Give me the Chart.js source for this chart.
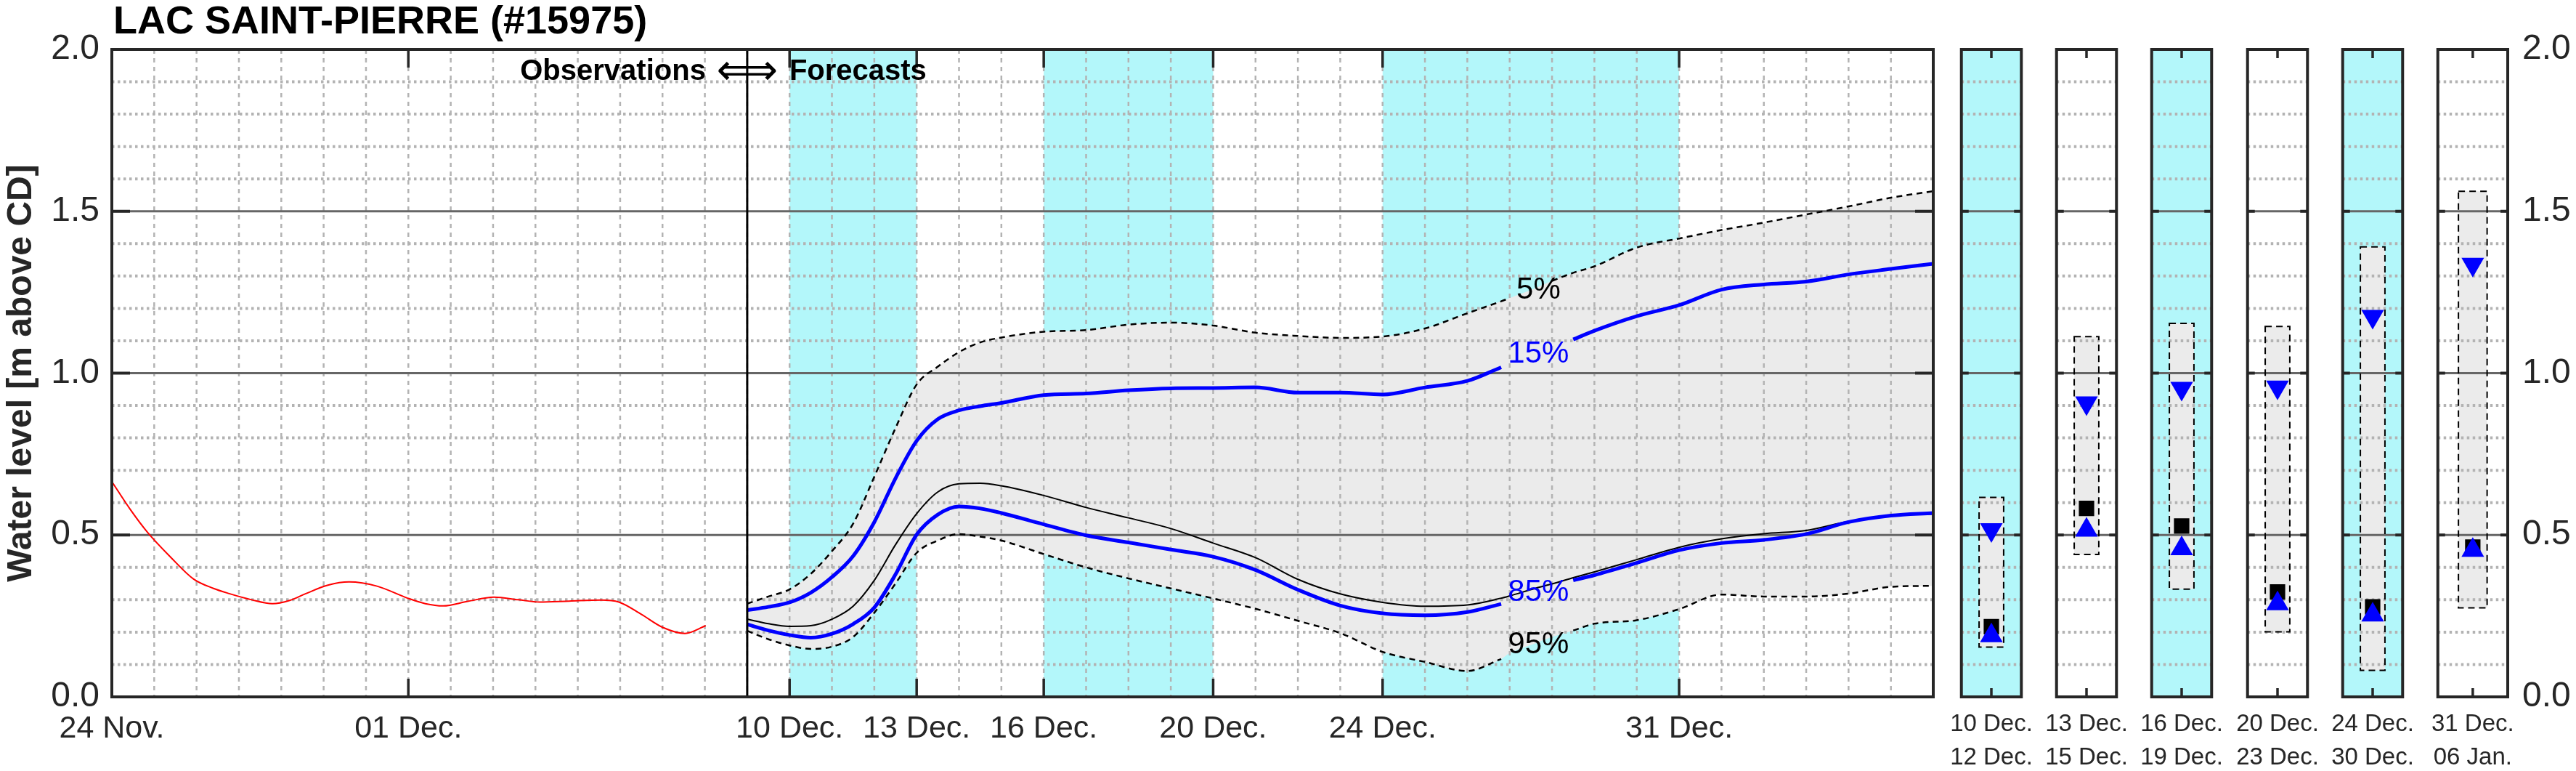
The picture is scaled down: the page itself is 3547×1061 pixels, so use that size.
<!DOCTYPE html>
<html>
<head>
<meta charset="utf-8">
<title>Lac Saint-Pierre water level</title>
<script src="https://cdn.jsdelivr.net/npm/chart.js@4.4.1/dist/chart.umd.min.js"></script>
<style>
  html, body { margin: 0; padding: 0; background: #fff; }
  #wrap { position: relative; width: 3547px; height: 1061px; overflow: hidden; }
  #wrap canvas { position: absolute; top: 0; }
</style>
</head>
<body>
<div id="wrap">
  <canvas id="mainChart" width="2700" height="1061" style="left:0"></canvas>
</div>
<script>
const stationTitle = 'LAC SAINT-PIERRE (#15975)';
const axisTitle = 'Water level [m above CD]';

// x axis counts days from 24 Nov.
const tickDays = [0, 7, 16, 19, 22, 26, 30, 37];
const tickLabels = ['24 Nov.', '01 Dec.', '10 Dec.', '13 Dec.', '16 Dec.', '20 Dec.', '24 Dec.', '31 Dec.'];
const lastDay = 43;
const forecastStart = 15;

const shadeFrom = [16, 22, 30];
const shadeTo = [19, 26, 37];

// observed level (red)
const obsDays = [0, 0.43, 0.85, 1.4, 1.93, 2.4, 2.77, 3.3, 3.79, 4.2, 4.58, 5.1, 5.6, 6.26, 6.98, 7.4, 7.82, 8.4, 9.02, 9.6, 10.1, 10.8, 11.55, 11.97, 12.5, 13.0, 13.53, 14.02];
const obsLevel = [0.665, 0.58, 0.507, 0.43, 0.364, 0.335, 0.319, 0.300, 0.288, 0.298, 0.319, 0.345, 0.355, 0.342, 0.305, 0.288, 0.281, 0.295, 0.308, 0.300, 0.293, 0.296, 0.299, 0.293, 0.255, 0.215, 0.196, 0.22];

// forecast percentiles
const fcDays = [15, 15.5, 16, 16.5, 17, 17.5, 18, 18.5, 19, 19.5, 20, 20.5, 21, 22, 23, 24, 25, 26, 27, 28, 29, 30, 31, 32, 32.8, 33, 33.6, 34, 34.5, 35, 36, 37, 38, 39, 40, 41, 42, 43];
const p5 = [0.288, 0.31, 0.332, 0.38, 0.45, 0.535, 0.68, 0.83, 0.965, 1.02, 1.065, 1.095, 1.11, 1.128, 1.133, 1.15, 1.156, 1.147, 1.125, 1.115, 1.109, 1.113, 1.138, 1.185, 1.222, 1.232, 1.262, 1.285, 1.31, 1.33, 1.388, 1.416, 1.442, 1.465, 1.49, 1.515, 1.542, 1.562];
const p15 = [0.268, 0.278, 0.292, 0.322, 0.37, 0.435, 0.54, 0.675, 0.791, 0.858, 0.885, 0.898, 0.908, 0.932, 0.937, 0.947, 0.953, 0.954, 0.956, 0.94, 0.94, 0.934, 0.956, 0.976, 1.018, null, null, null, 1.104, 1.131, 1.176, 1.21, 1.258, 1.274, 1.283, 1.305, 1.322, 1.338];
const median = [0.240, 0.226, 0.218, 0.220, 0.240, 0.280, 0.36, 0.47, 0.566, 0.633, 0.658, 0.66, 0.652, 0.622, 0.585, 0.553, 0.52, 0.475, 0.43, 0.363, 0.318, 0.292, 0.280, 0.284, 0.305, 0.312, 0.335, 0.349, 0.368, 0.386, 0.424, 0.462, 0.488, 0.504, 0.514, 0.542, 0.560, 0.565];
const p85 = [0.224, 0.205, 0.191, 0.183, 0.195, 0.225, 0.276, 0.378, 0.501, 0.563, 0.588, 0.582, 0.568, 0.533, 0.499, 0.477, 0.455, 0.433, 0.392, 0.331, 0.282, 0.258, 0.252, 0.262, 0.287, null, null, null, 0.36, 0.376, 0.414, 0.453, 0.475, 0.485, 0.503, 0.540, 0.560, 0.568];
const p95 = [0.204, 0.178, 0.159, 0.148, 0.155, 0.185, 0.26, 0.35, 0.445, 0.483, 0.503, 0.495, 0.483, 0.441, 0.40, 0.366, 0.335, 0.304, 0.272, 0.235, 0.197, 0.139, 0.108, 0.080, 0.117, 0.135, 0.165, 0.185, 0.205, 0.226, 0.237, 0.271, 0.316, 0.310, 0.310, 0.319, 0.340, 0.343];

// where the dashed lines stop for their labels
const gap5 = [33.0, 34.0];
const gap95 = [32.8, 34.5];

const pctText = ['5%', '15%', '85%', '95%'];
const pctLevel = [1.255, 1.058, 0.322, 0.161];
const pctColor = ['#000', '#0000ff', '#0000ff', '#000'];
const pctDay = 33.68;

// period summaries (right panels)
const panelFrom = ['10 Dec.', '13 Dec.', '16 Dec.', '20 Dec.', '24 Dec.', '31 Dec.'];
const panelTo = ['12 Dec.', '15 Dec.', '19 Dec.', '23 Dec.', '30 Dec.', '06 Jan.'];
const panelShaded = [true, false, true, false, true, false];
const boxLow = [0.154, 0.440, 0.333, 0.201, 0.082, 0.275];
const boxHigh = [0.616, 1.113, 1.154, 1.144, 1.390, 1.562];
const p15Max = [0.516, 0.908, 0.953, 0.957, 1.175, 1.336];
const medianMin = [0.217, 0.582, 0.528, 0.324, 0.278, 0.463];
const p85Min = [0.189, 0.515, 0.458, 0.288, 0.253, 0.453];

const cyan = '#b3f7fa';
const bandGrey = '#ebebeb';
const gridGrey = '#b3b3b3';
const frameColor = '#262626';
const FONT = '"Liberation Sans", Arial, sans-serif';

Chart.defaults.font.family = FONT;
Chart.defaults.color = frameColor;
Chart.defaults.animation = false;
Chart.defaults.events = [];
Chart.defaults.plugins.legend.display = false;
Chart.defaults.plugins.tooltip.enabled = false;

function pts(days, vals) {
    return days.map((d, i) => ({ x: d, y: vals[i] }));
}
function gapped(days, vals, gap) {
    return days.map((d, i) => ({ x: d, y: (d > gap[0] && d < gap[1]) ? null : vals[i] }));
}
function seg(ctx, x1, y1, x2, y2) {
    ctx.beginPath(); ctx.moveTo(x1, y1); ctx.lineTo(x2, y2); ctx.stroke();
}

// dotted 0.1 lines and solid 0.5 lines
function levelGrid(ctx, a, y) {
    ctx.save();
    ctx.strokeStyle = gridGrey; ctx.lineWidth = 4; ctx.setLineDash([3.5, 4.5]);
    for (let k = 1; k < 20; k++) {
        if (k % 5 === 0) continue;
        const py = y.getPixelForValue(k / 10);
        seg(ctx, a.left, py, a.right, py);
    }
    ctx.setLineDash([]);
    ctx.strokeStyle = '#666'; ctx.lineWidth = 3;
    [0.5, 1, 1.5].forEach(v => { const py = y.getPixelForValue(v); seg(ctx, a.left, py, a.right, py); });
    ctx.restore();
}

function frameAndYTicks(ctx, a, y, len) {
    ctx.save();
    ctx.strokeStyle = frameColor; ctx.lineWidth = 4;
    [0.5, 1, 1.5].forEach(v => {
        const py = y.getPixelForValue(v);
        seg(ctx, a.left, py, a.left + len, py);
        seg(ctx, a.right - len, py, a.right, py);
    });
    ctx.strokeRect(a.left, a.top, a.right - a.left, a.bottom - a.top);
    ctx.restore();
}

const mainDecor = {
    id: 'mainDecor',
    beforeDatasetsDraw(chart) {
        const { ctx, chartArea: a, scales: { x } } = chart;
        ctx.save();
        ctx.fillStyle = cyan;
        shadeFrom.forEach((d, i) => {
            const x1 = x.getPixelForValue(d), x2 = x.getPixelForValue(shadeTo[i]);
            ctx.fillRect(x1, a.top, x2 - x1, a.bottom - a.top);
        });
        ctx.restore();
    },
    afterDatasetDraw(chart, args) {
        if (args.index !== 1) return;   // grey band has just been filled
        const { ctx, chartArea: a, scales: { x, y } } = chart;
        ctx.save();
        ctx.strokeStyle = gridGrey; ctx.lineWidth = 2.5; ctx.setLineDash([6, 6]);
        for (let d = 1; d < lastDay; d++) {
            const px = x.getPixelForValue(d);
            seg(ctx, px, a.top, px, a.bottom);
        }
        ctx.restore();
        levelGrid(ctx, a, y);
    },
    afterDatasetsDraw(chart) {
        const { ctx, chartArea: a, scales: { x, y } } = chart;
        const x0 = x.getPixelForValue(forecastStart);
        ctx.save();
        ctx.strokeStyle = '#000'; ctx.lineWidth = 3;
        seg(ctx, x0, a.top, x0, a.bottom);

        ctx.strokeStyle = frameColor; ctx.lineWidth = 3.5;
        tickDays.forEach(d => {
            const px = x.getPixelForValue(d);
            seg(ctx, px, a.bottom, px, a.bottom - 25);
            seg(ctx, px, a.top, px, a.top + 25);
        });
        ctx.restore();
        frameAndYTicks(ctx, a, y, 25);

        ctx.save();
        ctx.textAlign = 'center'; ctx.textBaseline = 'middle';
        ctx.font = '42px ' + FONT;
        pctText.forEach((t, i) => {
            ctx.fillStyle = pctColor[i];
            ctx.fillText(t, x.getPixelForValue(pctDay), y.getPixelForValue(pctLevel[i]));
        });

        ctx.fillStyle = '#000';
        ctx.textBaseline = 'alphabetic';
        ctx.textAlign = 'left';
        ctx.font = 'bold 54px ' + FONT;
        ctx.fillText(stationTitle, a.left + 2, 46);

        ctx.font = 'bold 40px ' + FONT;
        ctx.textAlign = 'right';
        ctx.fillText('Observations', x0 - 57, 110);
        ctx.textAlign = 'left';
        ctx.fillText('Forecasts', x0 + 58, 110);

        ctx.font = '40px "DejaVu Sans"';
        const aw = ctx.measureText('\u27FA').width;
        ctx.font = Math.round(40 * 84 / aw) + 'px "DejaVu Sans"';
        ctx.textAlign = 'center'; ctx.textBaseline = 'middle';
        ctx.fillText('\u27FA', x0, 101);
        ctx.restore();
    }
};

const lineBase = { pointRadius: 0, fill: false, tension: 0.4, cubicInterpolationMode: 'monotone', spanGaps: false };

new Chart(document.getElementById('mainChart'), {
    type: 'line',
    data: {
        datasets: [
            Object.assign({}, lineBase, { label: 'band95', data: pts(fcDays, p95), borderColor: 'rgba(0,0,0,0)', borderWidth: 1, order: 11 }),
            Object.assign({}, lineBase, { label: 'band5', data: pts(fcDays, p5), borderColor: 'rgba(0,0,0,0)', borderWidth: 1, fill: '-1', backgroundColor: bandGrey, order: 10 }),
            Object.assign({}, lineBase, { label: '5%', data: gapped(fcDays, p5, gap5), borderColor: '#000', borderWidth: 2.5, borderDash: [8, 6], order: 5 }),
            Object.assign({}, lineBase, { label: '95%', data: gapped(fcDays, p95, gap95), borderColor: '#000', borderWidth: 2.5, borderDash: [8, 6], order: 5 }),
            Object.assign({}, lineBase, { label: 'median', data: pts(fcDays, median), borderColor: '#000', borderWidth: 2, order: 4 }),
            Object.assign({}, lineBase, { label: '15%', data: pts(fcDays, p15), borderColor: '#0000ff', borderWidth: 5, order: 3 }),
            Object.assign({}, lineBase, { label: '85%', data: pts(fcDays, p85), borderColor: '#0000ff', borderWidth: 5, order: 3 }),
            Object.assign({}, lineBase, { label: 'observed', data: pts(obsDays, obsLevel), borderColor: '#ff0000', borderWidth: 2, order: 2 })
        ]
    },
    options: {
        responsive: false,
        layout: { padding: { top: 68, right: 38, left: 0, bottom: 0 } },
        scales: {
            x: {
                type: 'linear', min: 0, max: lastDay,
                afterBuildTicks: s => { s.ticks = tickDays.map(v => ({ value: v })); },
                ticks: { autoSkip: false, maxRotation: 0, padding: 18, font: { size: 43 },
                    callback: (v, i) => tickLabels[i] },
                grid: { display: false, drawTicks: false },
                border: { display: false },
                afterFit: s => { s.height = 102; }
            },
            y: {
                min: 0, max: 2,
                ticks: { stepSize: 0.5, padding: 17, font: { size: 48 }, callback: v => v.toFixed(1) },
                grid: { display: false, drawTicks: false },
                border: { display: false },
                title: { display: true, text: axisTitle, color: '#262626', padding: 0,
                    font: { size: 48, weight: 'bold', lineHeight: 1.25 } },
                afterFit: s => { s.width = 154; }
            }
        },
        plugins: { mainDecor: {} }
    },
    plugins: [mainDecor]
});

// ---- period panels ----
const panelDecor = {
    id: 'panelDecor',
    beforeDatasetsDraw(chart, args, opts) {
        if (!opts.shaded) return;
        const { ctx, chartArea: a } = chart;
        ctx.save();
        ctx.fillStyle = cyan;
        ctx.fillRect(a.left, a.top, a.right - a.left, a.bottom - a.top);
        ctx.restore();
    },
    afterDatasetDraw(chart, args) {
        if (args.index !== 0) return;
        const { ctx, chartArea: a, scales: { y } } = chart;
        levelGrid(ctx, a, y);
        const bar = args.meta.data[0];
        const p = bar.getProps(['x', 'y', 'base', 'width'], true);
        ctx.save();
        ctx.strokeStyle = '#000'; ctx.lineWidth = 2; ctx.setLineDash([9, 6]);
        ctx.strokeRect(p.x - p.width / 2, Math.min(p.y, p.base), p.width, Math.abs(p.base - p.y));
        ctx.restore();
    },
    afterDatasetsDraw(chart) {
        const { ctx, chartArea: a, scales: { x, y } } = chart;
        const cx = x.getPixelForValue(0);
        ctx.save();
        ctx.strokeStyle = frameColor; ctx.lineWidth = 3.5;
        seg(ctx, cx, a.bottom, cx, a.bottom - 12);
        seg(ctx, cx, a.top, cx, a.top + 12);
        ctx.restore();
        frameAndYTicks(ctx, a, y, 10);
    }
};

const wrap = document.getElementById('wrap');
const panelLeft0 = 2687, panelPitch = 131.2, panelWidth = 110, margin = 20;

panelFrom.forEach((from, i) => {
    const left = Math.round(panelLeft0 + i * panelPitch);
    const isLast = i === panelFrom.length - 1;
    const cLeft = left - margin;
    const cWidth = isLast ? 3547 - cLeft : panelWidth + 2 * margin;
    const canvas = document.createElement('canvas');
    canvas.width = cWidth; canvas.height = 1061;
    canvas.style.left = cLeft + 'px';
    wrap.appendChild(canvas);

    new Chart(canvas, {
        type: 'bar',
        data: {
            labels: [[from, panelTo[i]]],
            datasets: [
                { type: 'bar', data: [[boxLow[i], boxHigh[i]]], backgroundColor: bandGrey, borderWidth: 0,
                  barPercentage: 0.41, categoryPercentage: 1, order: 3 },
                { type: 'line', data: [medianMin[i]], showLine: false, pointStyle: 'rect', pointRadius: 15,
                  pointBackgroundColor: '#000', pointBorderWidth: 0, order: 2 },
                { type: 'line', data: [p85Min[i]], showLine: false, pointStyle: 'triangle', pointRadius: 18,
                  pointBackgroundColor: '#0000ff', pointBorderWidth: 0, order: 1 },
                { type: 'line', data: [p15Max[i]], showLine: false, pointStyle: 'triangle', pointRotation: 180,
                  pointRadius: 18, pointBackgroundColor: '#0000ff', pointBorderWidth: 0, order: 1 }
            ]
        },
        options: {
            responsive: false,
            layout: { padding: { top: 68, left: margin, right: isLast ? 0 : margin, bottom: 0 } },
            scales: {
                x: {
                    ticks: { padding: 15, maxRotation: 0, font: { size: 33, lineHeight: 1.4 } },
                    grid: { display: false, drawTicks: false },
                    border: { display: false },
                    afterFit: s => { s.height = 102; }
                },
                y: {
                    min: 0, max: 2,
                    display: isLast,
                    position: 'right',
                    ticks: { stepSize: 0.5, padding: 20, font: { size: 48 }, callback: v => v.toFixed(1) },
                    grid: { display: false, drawTicks: false },
                    border: { display: false },
                    afterFit: s => { if (isLast) s.width = cWidth - margin - panelWidth; }
                }
            },
            plugins: { panelDecor: { shaded: panelShaded[i] } }
        },
        plugins: [panelDecor]
    });
});
</script>
</body>
</html>
